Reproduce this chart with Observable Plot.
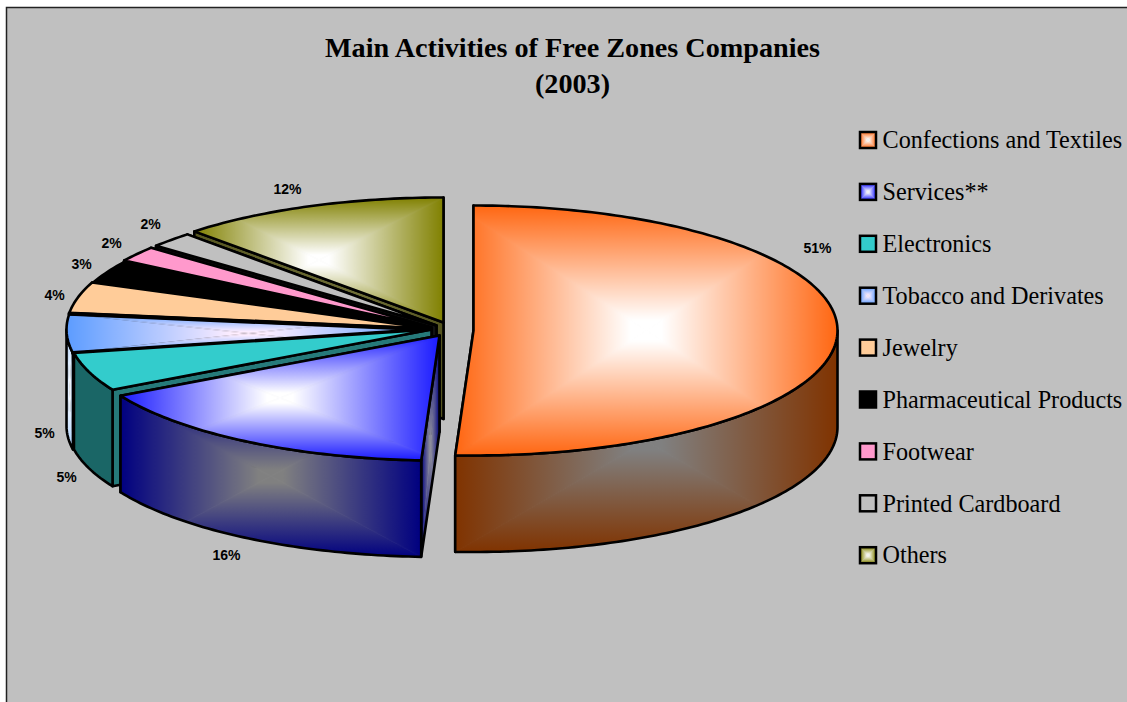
<!DOCTYPE html>
<html>
<head>
<meta charset="utf-8">
<style>html,body{margin:0;padding:0;background:#fff;overflow:hidden}svg{display:block}</style>
<script src="https://cdn.jsdelivr.net/npm/d3@7"></script>
<script src="https://cdn.jsdelivr.net/npm/@observablehq/plot@0.6"></script>
</head>
<body>
<div id="chart"></div>
<script>
// ---- data ----
const categories = ["Confections and Textiles","Services**","Electronics","Tobacco and Derivates","Jewelry","Pharmaceutical Products","Footwear","Printed Cardboard","Others"];
const values = [50.8,16.2,5,5,4,3,2,2,12];
const titleLines = ["Main Activities of Free Zones Companies","(2003)"];

// ---- styles ----
const topEdge   = ["#ff6611","#1a1aff","#33cccc","#5c9cff","#ffcc99","#000000","#ff99cc","#c0c0c0","#808000"];
const topCenter = ["#ffffff","#ffffff","#33cccc","#ffeeff","#ffcc99","#000000","#ff99cc","#c0c0c0","#ffffff"];
const sideEdge  = ["#803300","#000080","#1a6666","#aed2ff","#806633","#000000","#804d66","#606060","#404000"];
const sideCenter= ["#808080","#808080","#1a6666","#ffffff","#806633","#000000","#804d66","#606060","#808080"];
const wallEdge  = ["#803300","#000080","#267a7a","#111111","#111111","#000000","#111111","#111111","#55551f"];
const wallCenter= ["#808080","#8a8a9a","#267a7a","#111111","#111111","#000000","#111111","#111111","#77773f"];
const radialWidth = [0,0,0,4,0,0,0,0,0];

// ---- layout of the pie plane ----
const rx = 364, ry = 125, depth = 96.5, outline = 2.6;
const centerX = [473,439,431,430,430,430,431,436,443];
const centerY = [330,335,329,329,328,329,327,325,322];
const labelX  = [817,226,66,44,54,81,111,150,287];
const labelY  = [248,555,477,433,295,264,243,224,189];
const legendTop = 140, legendStep = 51.9, swatchX = 860, swatchSize = 16, legendTextX = 882;

const ends = d3.cumsum(values).map(v => v * 3.6);
const starts = ends.map((_, i) => i ? ends[i - 1] : 0);
const rad = d => d * Math.PI / 180;
const P = (i, a, drop = 0) => ({x: centerX[i] + rx * Math.sin(rad(a)), y: centerY[i] - ry * Math.cos(rad(a)) + drop});
const arc = (i, a0, a1, drop = 0) => {
  const n = Math.max(2, Math.ceil(Math.abs(a1 - a0)));
  return d3.range(n + 1).map(k => P(i, a0 + (a1 - a0) * k / n, drop));
};
const C = (i, drop = 0) => ({x: centerX[i], y: centerY[i] + drop});

function defsMark() {
  const defs = d3.create("svg:defs");
  const add = (id, edge, center) => {
    [["t",0,0,0,.5],["b",0,1,0,.5],["l",0,0,.5,0],["r",1,0,.5,0]]
      .forEach(([s,x1,y1,x2,y2]) => {
        const g = defs.append("linearGradient").attr("id", `${id}-${s}`).attr("gradientUnits","userSpaceOnUse")
          .attr("x1",x1).attr("y1",y1).attr("x2",x2).attr("y2",y2);
        g.append("stop").attr("offset",0).attr("stop-color",edge);
        g.append("stop").attr("offset",0.92).attr("stop-color",center);
      });
    const p = defs.append("pattern").attr("id",id).attr("patternUnits","objectBoundingBox")
      .attr("patternContentUnits","objectBoundingBox").attr("width",1).attr("height",1);
    [["t","0,0 1,0 .5,.5"],["b","0,1 1,1 .5,.5"],["l","0,0 0,1 .5,.5"],["r","1,0 1,1 .5,.5"]].forEach(([s,pts]) =>
      p.append("polygon").attr("points",pts).attr("fill",`url(#${id}-${s})`).attr("stroke",`url(#${id}-${s})`).attr("stroke-width",0.003));
  };
  categories.forEach((_, i) => {
    add(`top${i}`, topEdge[i], topCenter[i]);
    add(`side${i}`, sideEdge[i], sideCenter[i]);
    add(`wall${i}`, wallEdge[i], wallCenter[i]);
  });
  return defs.node();
}

const paint = (id, edge, center) => edge === center ? edge : `url(#${id})`;
const face = (pts, fill) => Plot.line([...pts, pts[0]], {x:"x", y:"y", fill, stroke:"#000", strokeWidth:outline, strokeLinejoin:"round"});

const marks = [
  defsMark,
  Plot.rect([{}], {x1:()=>6.5, x2:()=>1140, y1:()=>7.5, y2:()=>720, fill:"#c0c0c0", stroke:"#222", strokeWidth:1.5})
];

// painter's order: back slices first, the front-right slice last
[8,7,6,5,4,3,2,1,0].forEach(i => {
  const a0 = starts[i], a1 = ends[i];
  const wall = a => [C(i), P(i,a), P(i,a,depth), C(i,depth)];
  const wf = paint(`wall${i}`, wallEdge[i], wallCenter[i]);
  marks.push(face(wall(a1), wf));
  marks.push(face(wall(a0), wf));
  const s0 = Math.max(a0,90), s1 = Math.min(a1,270);
  if (s1 > s0) marks.push(face([...arc(i,s0,s1), ...arc(i,s1,s0,depth)], paint(`side${i}`, sideEdge[i], sideCenter[i])));
  marks.push(face([C(i), ...arc(i,a0,a1)], paint(`top${i}`, topEdge[i], topCenter[i])));
  if (radialWidth[i]) marks.push(Plot.line([P(i,a0), C(i), P(i,a1)], {x:"x", y:"y", stroke:"#000", strokeWidth:radialWidth[i]}));
});

// slice percentages
marks.push(Plot.text(values, {
  x:(d,i)=>labelX[i], y:(d,i)=>labelY[i], text:d=>`${Math.round(d)}%`,
  fontFamily:"Liberation Sans", fontWeight:"bold", fontSize:14, fill:"#000"
}));

// title
marks.push(Plot.text(titleLines, {
  x:()=>572, y:(d,i)=>47+i*36.5, text:d=>d,
  fontFamily:"Liberation Serif", fontWeight:"bold", fontSize:28.2, fill:"#000"
}));

// legend
categories.forEach((c,i) => {
  const yc = legendTop + i*legendStep;
  marks.push(Plot.rect([c], {x1:()=>swatchX, x2:()=>swatchX+swatchSize, y1:()=>yc-swatchSize/2, y2:()=>yc+swatchSize/2,
    fill:paint(`top${i}`, topEdge[i], topCenter[i]), stroke:"#000", strokeWidth:2.5}));
});
marks.push(Plot.text(categories, {
  x:()=>legendTextX, y:(d,i)=>legendTop+i*legendStep, text:d=>d, textAnchor:"start",
  fontFamily:"Liberation Serif", fontSize:24.2, fill:"#000"
}));

const chart = Plot.plot({
  width:1127, height:702, margin:0,
  x:{domain:[0,1127], axis:null},
  y:{domain:[702,0], axis:null},
  style:{background:"#fff"},
  marks
});
document.getElementById("chart").appendChild(chart);
</script>
</body>
</html>
